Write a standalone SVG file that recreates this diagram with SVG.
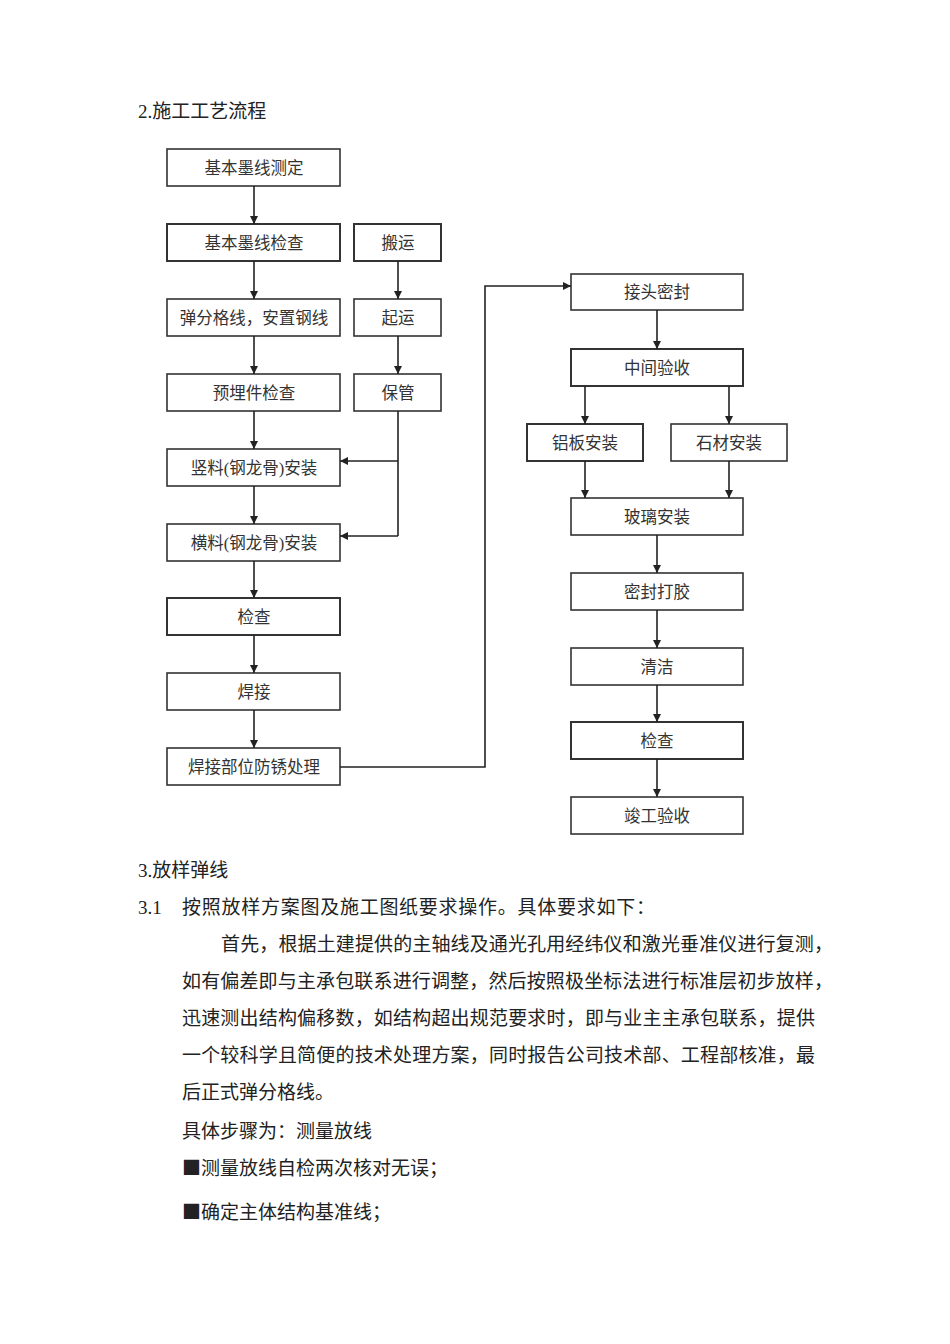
<svg xmlns="http://www.w3.org/2000/svg" width="950" height="1344" viewBox="0 0 950 1344">
<defs>
<marker id="ah" viewBox="0 0 10 10" refX="10" refY="5" markerWidth="8" markerHeight="9" markerUnits="userSpaceOnUse" orient="auto">
<path d="M0,0 L10,5 L0,10 z" fill="#222"/>
</marker>
<style>
.box{fill:#fff;stroke:#333;stroke-width:1.6}
.lbl{font-family:"Liberation Serif","Noto Sans CJK SC",serif;font-size:16.5px;fill:#333;text-anchor:middle}
.txt{font-family:"Liberation Serif","Noto Sans CJK SC",serif;font-size:19px;fill:#222}
.sq{font-family:"Noto Sans CJK SC",sans-serif}
.con{fill:none;stroke:#222;stroke-width:1.6}
.arr{fill:none;stroke:#222;stroke-width:1.6;marker-end:url(#ah)}
</style>
</defs>
<rect width="950" height="1344" fill="#fff"/>
<text class="txt" x="138" y="118">2.施工工艺流程</text>

<g id="n1"><rect class="box" x="167" y="149" width="173" height="37"/><text class="lbl" x="254" y="174">基本墨线测定</text></g>
<g id="n2"><rect class="box" x="167" y="224" width="173" height="37" style="stroke-width:2"/><text class="lbl" x="254" y="249">基本墨线检查</text></g>
<g id="n3"><rect class="box" x="167" y="299" width="173" height="37"/><text class="lbl" x="254" y="324">弹分格线，安置钢线</text></g>
<g id="n4"><rect class="box" x="167" y="374" width="173" height="37"/><text class="lbl" x="254" y="399">预埋件检查</text></g>
<g id="n5"><rect class="box" x="167" y="449" width="173" height="37"/><text class="lbl" x="254" y="474">竖料(钢龙骨)安装</text></g>
<g id="n6"><rect class="box" x="167" y="524" width="173" height="37"/><text class="lbl" x="254" y="549">横料(钢龙骨)安装</text></g>
<g id="n7"><rect class="box" x="167" y="598" width="173" height="37" style="stroke-width:2"/><text class="lbl" x="254" y="623">检查</text></g>
<g id="n8"><rect class="box" x="167" y="673" width="173" height="37"/><text class="lbl" x="254" y="698">焊接</text></g>
<g id="n9"><rect class="box" x="167" y="748" width="173" height="37"/><text class="lbl" x="254" y="773">焊接部位防锈处理</text></g>

<g id="s1"><rect class="box" x="354" y="224" width="87" height="37" style="stroke-width:2"/><text class="lbl" x="398" y="249">搬运</text></g>
<g id="s2"><rect class="box" x="354" y="299" width="87" height="37"/><text class="lbl" x="398" y="324">起运</text></g>
<g id="s3"><rect class="box" x="354" y="374" width="87" height="37"/><text class="lbl" x="398" y="399">保管</text></g>

<g id="r1"><rect class="box" x="571" y="274" width="172" height="36"/><text class="lbl" x="657" y="298">接头密封</text></g>
<g id="r2"><rect class="box" x="571" y="349" width="172" height="37" style="stroke-width:2"/><text class="lbl" x="657" y="374">中间验收</text></g>
<g id="r3a"><rect class="box" x="527" y="424" width="116" height="37" style="stroke-width:2"/><text class="lbl" x="585" y="449">铝板安装</text></g>
<g id="r3b"><rect class="box" x="671" y="424" width="116" height="37"/><text class="lbl" x="729" y="449">石材安装</text></g>
<g id="r4"><rect class="box" x="571" y="498" width="172" height="37"/><text class="lbl" x="657" y="523">玻璃安装</text></g>
<g id="r5"><rect class="box" x="571" y="573" width="172" height="37"/><text class="lbl" x="657" y="598">密封打胶</text></g>
<g id="r6"><rect class="box" x="571" y="648" width="172" height="37"/><text class="lbl" x="657" y="673">清洁</text></g>
<g id="r7"><rect class="box" x="571" y="722" width="172" height="37" style="stroke-width:2"/><text class="lbl" x="657" y="747">检查</text></g>
<g id="r8"><rect class="box" x="571" y="797" width="172" height="37"/><text class="lbl" x="657" y="822">竣工验收</text></g>

<g id="connectors">
<line class="arr" x1="254" y1="186" x2="254" y2="224"/>
<line class="arr" x1="254" y1="261" x2="254" y2="299"/>
<line class="arr" x1="254" y1="336" x2="254" y2="374"/>
<line class="arr" x1="254" y1="411" x2="254" y2="449"/>
<line class="arr" x1="254" y1="486" x2="254" y2="524"/>
<line class="arr" x1="254" y1="561" x2="254" y2="598"/>
<line class="arr" x1="254" y1="635" x2="254" y2="673"/>
<line class="arr" x1="254" y1="710" x2="254" y2="748"/>
<line class="arr" x1="398" y1="261" x2="398" y2="299"/>
<line class="arr" x1="398" y1="336" x2="398" y2="374"/>
<polyline class="con" points="398,411 398,536"/>
<line class="arr" x1="398" y1="461" x2="340" y2="461"/>
<line class="arr" x1="398" y1="536" x2="340" y2="536"/>
<polyline class="arr" points="340,767 485,767 485,286 571,286"/>
<line class="arr" x1="657" y1="310" x2="657" y2="349"/>
<line class="arr" x1="585" y1="386" x2="585" y2="424"/>
<line class="arr" x1="729" y1="386" x2="729" y2="424"/>
<line class="arr" x1="585" y1="461" x2="585" y2="498"/>
<line class="arr" x1="729" y1="461" x2="729" y2="498"/>
<line class="arr" x1="657" y1="535" x2="657" y2="573"/>
<line class="arr" x1="657" y1="610" x2="657" y2="648"/>
<line class="arr" x1="657" y1="685" x2="657" y2="722"/>
<line class="arr" x1="657" y1="759" x2="657" y2="797"/>
</g>

<text class="txt" x="138" y="877">3.放样弹线</text>
<text class="txt" x="138" y="914">3.1</text>
<text class="txt" x="182" y="914" textLength="473" lengthAdjust="spacing">按照放样方案图及施工图纸要求操作。具体要求如下：</text>
<text class="txt" x="221" y="951" textLength="612" lengthAdjust="spacing">首先，根据土建提供的主轴线及通光孔用经纬仪和激光垂准仪进行复测，</text>
<text class="txt" x="182" y="988" textLength="651" lengthAdjust="spacing">如有偏差即与主承包联系进行调整，然后按照极坐标法进行标准层初步放样，</text>
<text class="txt" x="182" y="1025" textLength="633" lengthAdjust="spacing">迅速测出结构偏移数，如结构超出规范要求时，即与业主主承包联系，提供</text>
<text class="txt" x="182" y="1062" textLength="633" lengthAdjust="spacing">一个较科学且简便的技术处理方案，同时报告公司技术部、工程部核准，最</text>
<text class="txt" x="182" y="1099">后正式弹分格线。</text>
<text class="txt" x="182" y="1138">具体步骤为：测量放线</text>
<text class="txt" x="182" y="1175"><tspan class="sq">■</tspan>测量放线自检两次核对无误；</text>
<text class="txt" x="182" y="1219"><tspan class="sq">■</tspan>确定主体结构基准线；</text>
</svg>
